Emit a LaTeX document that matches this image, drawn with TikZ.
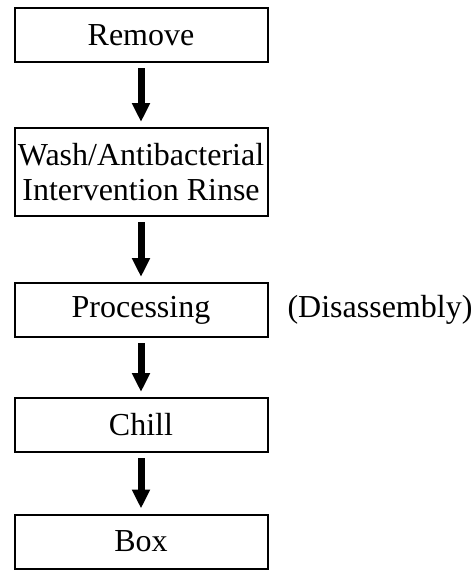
\documentclass[tikz,border=0pt]{standalone}
\usepackage{fontspec}
\setmainfont{Liberation Serif}
\usetikzlibrary{arrows.meta}
\begin{document}
\begin{tikzpicture}[x=1pt,y=-1pt,
  txt/.style={font=\fontsize{32}{35.5}\selectfont},
  stepbox/.style={txt, draw=black, line width=2pt, minimum width=253pt, inner sep=0pt,
    align=center},
  flow/.style={line width=7pt, -{Triangle[width=17pt,length=19pt]},
    shorten <=5pt, shorten >=5pt}
]
\useasboundingbox (0,0) rectangle (476,571);
\node[stepbox, minimum height=54pt] (r) at (141,35) {Remove};
\node[stepbox, minimum height=88pt] (w) at (141,172) {Wash/Antibacterial\\Intervention Rinse};
\node[stepbox, minimum height=54pt] (p) at (141,310) {Processing};
\node[stepbox, minimum height=54pt] (c) at (141,425) {Chill};
\node[stepbox, minimum height=54pt] (b) at (141,541.5) {Box};
\node[txt, inner sep=0pt] (d) at (380,310) {(Disassembly)};
\draw[flow] (r) -- (w);
\draw[flow] (w) -- (p);
\draw[flow] (p) -- (c);
\draw[flow] (c) -- (b);
\end{tikzpicture}
\end{document}
